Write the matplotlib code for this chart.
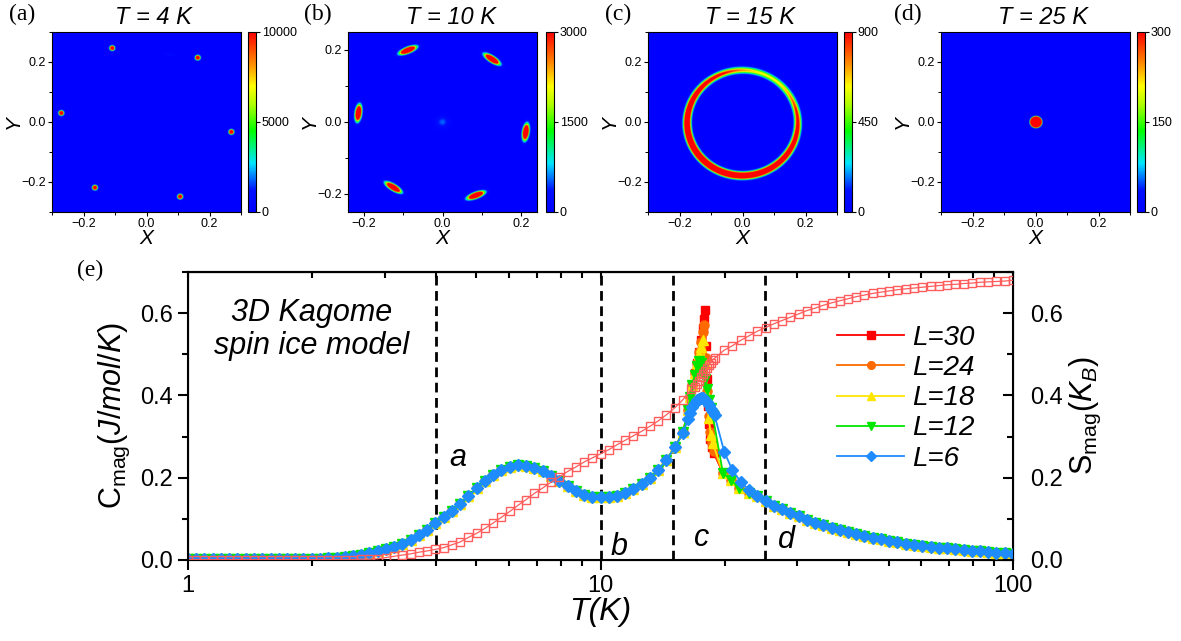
import numpy as np
import matplotlib.pyplot as plt
from matplotlib.colors import LinearSegmentedColormap
from matplotlib.ticker import MultipleLocator, FixedLocator, LogLocator, NullFormatter

plt.rcParams['font.family'] = 'Liberation Sans'
plt.rcParams['mathtext.fontset'] = 'custom'
plt.rcParams['mathtext.rm'] = 'Liberation Sans'
plt.rcParams['mathtext.it'] = 'Liberation Sans:italic'

# ---------------- panel (e): C_mag and S_mag vs T ----------------
T_low = [1.000, 1.047, 1.096, 1.148, 1.202, 1.259, 1.318, 1.380, 1.445, 1.514,
         1.585, 1.660, 1.738, 1.820, 1.905, 1.995, 2.089, 2.188, 2.291, 2.399,
         2.512, 2.630, 2.754, 2.884, 3.020, 3.162, 3.311, 3.467, 3.631, 3.802,
         3.981, 4.169, 4.365, 4.571, 4.786, 5.012, 5.248, 5.495, 5.754, 6.026,
         6.310, 6.607, 6.918, 7.244, 7.586, 7.943, 8.318, 8.710, 9.120, 9.550,
         10.00, 10.47, 10.96, 11.48, 12.02, 12.59, 13.18, 13.80, 14.45, 15.14]
C_low = [0.002, 0.002, 0.002, 0.002, 0.002, 0.002, 0.002, 0.002, 0.002, 0.002,
         0.002, 0.002, 0.002, 0.003, 0.003, 0.003, 0.003, 0.004, 0.005, 0.007,
         0.009, 0.012, 0.016, 0.021, 0.026, 0.032, 0.040, 0.049, 0.060, 0.073,
         0.089, 0.104, 0.120, 0.137, 0.156, 0.174, 0.191, 0.206, 0.218, 0.227,
         0.232, 0.229, 0.224, 0.216, 0.204, 0.192, 0.179, 0.167, 0.159, 0.154,
         0.152, 0.152, 0.155, 0.162, 0.172, 0.184, 0.199, 0.218, 0.243, 0.274]
S_low = [0.001, 0.001, 0.001, 0.001, 0.001, 0.001, 0.001, 0.001, 0.001, 0.001,
         0.001, 0.001, 0.001, 0.001, 0.001, 0.001, 0.001, 0.001, 0.001, 0.001,
         0.001, 0.002, 0.002, 0.003, 0.006, 0.009, 0.012, 0.015, 0.019, 0.022,
         0.026, 0.030, 0.037, 0.044, 0.055, 0.065, 0.077, 0.090, 0.104, 0.118,
         0.133, 0.147, 0.162, 0.175, 0.189, 0.202, 0.215, 0.226, 0.238, 0.248,
         0.258, 0.268, 0.280, 0.291, 0.302, 0.313, 0.325, 0.338, 0.353, 0.370]

T_high = [23.99, 25.12, 26.30, 27.54, 28.84, 30.20, 31.62, 33.11, 34.67, 36.31,
          38.02, 39.81, 41.69, 43.65, 45.71, 47.86, 50.12, 52.48, 54.95, 57.54,
          60.26, 63.10, 66.07, 69.18, 72.44, 75.86, 79.43, 83.18, 87.10, 91.20,
          95.50, 100.0]
C_high = [0.155, 0.143, 0.132, 0.123, 0.114, 0.106, 0.098, 0.091, 0.085, 0.078,
          0.073, 0.067, 0.062, 0.058, 0.054, 0.050, 0.046, 0.043, 0.040, 0.037,
          0.035, 0.032, 0.030, 0.028, 0.026, 0.024, 0.022, 0.021, 0.019, 0.018,
          0.016, 0.015]
S_high = [0.556, 0.565, 0.574, 0.582, 0.590, 0.598, 0.606, 0.612, 0.619, 0.625,
          0.630, 0.635, 0.640, 0.644, 0.648, 0.651, 0.654, 0.657, 0.659, 0.661,
          0.663, 0.665, 0.667, 0.669, 0.670, 0.672, 0.673, 0.675, 0.676, 0.677,
          0.678, 0.680]

# transition region, per system size
T_crit_30 = [15.85, 16.3, 16.5, 16.7, 16.9, 17.1, 17.3, 17.5, 17.7, 17.8, 17.9,
             18.0, 18.1, 18.2, 18.3, 18.45, 18.6, 18.8, 19.8, 20.7, 21.7, 22.9]
C_crit_30 = [0.310, 0.365, 0.395, 0.425, 0.455, 0.480, 0.505, 0.535, 0.565, 0.585, 0.607,
             0.520, 0.440, 0.375, 0.330, 0.295, 0.275, 0.260, 0.212, 0.194, 0.176, 0.164]
T_crit_24 = [15.85, 16.3, 16.5, 16.7, 16.9, 17.1, 17.3, 17.5, 17.7, 17.85,
             18.0, 18.15, 18.3, 18.45, 18.6, 18.8, 19.8, 20.7, 21.7, 22.9]
C_crit_24 = [0.310, 0.365, 0.395, 0.425, 0.455, 0.480, 0.505, 0.530, 0.555, 0.570,
             0.490, 0.410, 0.350, 0.310, 0.285, 0.265, 0.212, 0.194, 0.176, 0.164]
T_crit_18 = [15.85, 16.3, 16.5, 16.7, 16.9, 17.1, 17.3, 17.5, 17.7, 17.9,
             18.1, 18.3, 18.5, 18.7, 19.8, 20.7, 21.7, 22.9]
C_crit_18 = [0.310, 0.365, 0.395, 0.425, 0.455, 0.480, 0.500, 0.518, 0.534, 0.480,
             0.400, 0.345, 0.305, 0.285, 0.212, 0.194, 0.176, 0.164]
T_crit_12 = [15.85, 16.3, 16.5, 16.7, 16.9, 17.1, 17.3, 17.5, 17.7, 17.9,
             18.1, 18.3, 18.5, 18.7, 19.8, 20.7, 21.7, 22.9]
C_crit_12 = [0.310, 0.365, 0.395, 0.425, 0.450, 0.472, 0.484, 0.480, 0.465, 0.440,
             0.415, 0.390, 0.370, 0.352, 0.212, 0.194, 0.176, 0.164]
T_crit_6 = [15.85, 16.3, 16.5, 16.7, 16.9, 17.1, 17.3, 17.5, 17.7, 17.9,
            18.1, 18.3, 18.5, 18.7, 18.9, 19.95, 20.89, 21.88, 22.91]
C_crit_6 = [0.308, 0.342, 0.358, 0.371, 0.381, 0.388, 0.392, 0.394, 0.393, 0.389,
            0.383, 0.376, 0.368, 0.360, 0.352, 0.263, 0.218, 0.190, 0.170]
T_crit_S = [15.85, 16.60, 16.9, 17.1, 17.3, 17.5, 17.7, 17.9, 18.1, 18.3, 18.5,
            18.7, 18.9, 19.95, 20.89, 21.88, 22.91]
S_crit = [0.390, 0.415, 0.421, 0.428, 0.436, 0.444, 0.452, 0.460, 0.467, 0.474, 0.480,
          0.486, 0.490, 0.510, 0.521, 0.534, 0.545]

sizes = [30, 24, 18, 12, 6]
colors = ['#ff0000', '#ff6a00', '#ffe600', '#00e600', '#1e8cff']
markers = ['s', 'o', '^', 'v', 'D']
msizes = [6, 6.5, 7, 7, 6.3]
T_crits = [T_crit_30, T_crit_24, T_crit_18, T_crit_12, T_crit_6]
C_crits = [C_crit_30, C_crit_24, C_crit_18, C_crit_12, C_crit_6]

T_marks = [4, 10, 15, 25]
region_labels = ['a', 'b', 'c', 'd']
region_T = [4.52, 11.1, 17.6, 28.3]
region_C = [0.247, 0.032, 0.053, 0.049]

# ---------------- panels (a)-(d): intensity maps ----------------
panel_titles = ['T = 4 K', 'T = 10 K', 'T = 15 K', 'T = 25 K']
panel_tags = ['(a)', '(b)', '(c)', '(d)']
panel_vmax = [10000, 3000, 900, 300]
half_x = [0.3, 0.24, 0.3, 0.3]
half_y = [0.3, 0.25, 0.3, 0.3]

spots_a_x = [-0.109, 0.163, -0.271, 0.270, -0.164, 0.107]
spots_a_y = [0.247, 0.215, 0.030, -0.033, -0.219, -0.249]
spots_b_x = [-0.088, 0.126, -0.214, 0.212, -0.125, 0.085]
spots_b_y = [0.200, 0.175, 0.025, -0.028, -0.182, -0.204]
ring_radius = 0.176
dot_radius = 0.019

cmap = LinearSegmentedColormap.from_list('origin_rainbow', [
    (0.0, '#0000ff'), (0.12, '#0010ff'), (0.27, '#00e5ff'), (0.45, '#00ff00'),
    (0.6, '#b0ff00'), (0.7, '#ffff00'), (0.82, '#ff9000'), (1.0, '#ff0000')])


def add_spots(X, Y, xs, ys, amp, sig_t, sig_r):
    out = np.zeros_like(X)
    for x0, y0 in zip(xs, ys):
        th = np.arctan2(y0, x0)
        dx, dy = X - x0, Y - y0
        r = dx * np.cos(th) + dy * np.sin(th)
        t = -dx * np.sin(th) + dy * np.cos(th)
        out += amp * np.exp(-r ** 2 / (2 * sig_r ** 2) - t ** 2 / (2 * sig_t ** 2))
    return out


def make_map(k):
    x = np.linspace(-half_x[k], half_x[k], 500)
    y = np.linspace(-half_y[k], half_y[k], 500)
    X, Y = np.meshgrid(x, y)
    if k == 0:
        Z = add_spots(X, Y, spots_a_x, spots_a_y, 25000, 0.0045, 0.0045)
        Z += add_spots(X, Y, [0.072], [0.226], 900, 0.012, 0.002)
    elif k == 1:
        Z = add_spots(X, Y, spots_b_x, spots_b_y, 9000, 0.0125, 0.0045)
        Z += 550 * np.exp(-(X ** 2 + Y ** 2) / (2 * 0.011 ** 2))
    elif k == 2:
        R = np.hypot(X, Y + 0.003)
        phi = np.arctan2(Y, X)
        amp = 900 * (1.7 + 1.0 * np.cos(phi - np.deg2rad(240)))
        Z = amp * np.exp(-(R - ring_radius) ** 2 / (2 * 0.0068 ** 2))
    else:
        R = np.hypot(X, Y)
        Z = 600 * np.exp(-(R / dot_radius) ** 8)
    return Z


fig = plt.figure(figsize=(11.81, 6.41), dpi=100)
W, H = 1181.0, 641.0

ax_left = [52, 348, 648, 941]
cb_left = [248, 546, 844, 1137]
tag_x = [22, 318, 618, 908]

for k in range(4):
    axm = fig.add_axes([ax_left[k] / W, (H - 212) / H, 189 / W, 180 / H])
    Z = make_map(k)
    im = axm.imshow(Z, origin='lower', cmap=cmap, vmin=0, vmax=panel_vmax[k],
                    extent=[-half_x[k], half_x[k], -half_y[k], half_y[k]],
                    aspect='auto', interpolation='bilinear')
    axm.set_xticks([-0.2, 0.0, 0.2])
    axm.set_yticks([-0.2, 0.0, 0.2])
    axm.xaxis.set_minor_locator(MultipleLocator(0.1))
    axm.yaxis.set_minor_locator(MultipleLocator(0.1))
    axm.tick_params(which='major', length=3, width=0.8, labelsize=9, pad=1.5)
    axm.tick_params(which='minor', length=2, width=0.7)
    for s in axm.spines.values():
        s.set_linewidth(0.8)
    axm.set_xlabel('X', fontsize=15, fontstyle='italic', labelpad=-1)
    axm.set_ylabel('Y', fontsize=15, fontstyle='italic', labelpad=-1)

    cax = fig.add_axes([cb_left[k] / W, (H - 212) / H, 7.5 / W, 180 / H])
    cb = fig.colorbar(im, cax=cax, ticks=[0, panel_vmax[k] / 2, panel_vmax[k]])
    cb.ax.set_yticklabels(['0', str(panel_vmax[k] // 2), str(panel_vmax[k])])
    cb.ax.tick_params(length=3, width=0.8, labelsize=9, pad=1.5)
    cb.outline.set_linewidth(0.8)

    fig.text((ax_left[k] + cb_left[k] + 7.5) / 2 / W, 1 - 17 / H, panel_titles[k],
             fontsize=17, fontstyle='italic', ha='center', va='center')
    fig.text(tag_x[k] / W, 1 - 14 / H, panel_tags[k], family='Liberation Serif',
             fontsize=17, ha='center', va='center')

fig.text(90 / W, 1 - 270 / H, '(e)', family='Liberation Serif', fontsize=17,
         ha='center', va='center')

# main panel
ax = fig.add_axes([188 / W, 81 / H, 825 / W, 288 / H])
ax.set_xscale('log')

for T0 in T_marks:
    ax.axvline(T0, color='k', lw=2.0, ls=(0, (3.5, 2)), zorder=1)

for L, col, mk, ms, tc, cc in zip(sizes, colors, markers, msizes, T_crits, C_crits):
    ax.plot(T_low + tc + T_high, C_low + cc + C_high, color=col, marker=mk, ms=ms,
            mec=col, lw=1.3, label=f'L={L}', zorder=3)

ax.set_xlim(1, 100)
ax.set_ylim(0, 0.7)
ax.set_xticks([1, 10, 100])
ax.set_xticklabels(['1', '10', '100'])
ax.xaxis.set_minor_locator(LogLocator(base=10, subs=np.arange(2, 10)))
ax.xaxis.set_minor_formatter(NullFormatter())
ax.yaxis.set_major_locator(FixedLocator([0.0, 0.2, 0.4, 0.6]))
ax.yaxis.set_minor_locator(MultipleLocator(0.1))
ax.yaxis.set_major_formatter(plt.FuncFormatter(lambda v, p: f'{v:.1f}'))
ax.tick_params(which='major', direction='out', length=7, width=1.5, labelsize=17, pad=4)
ax.tick_params(which='minor', direction='out', length=4, width=1.5)
for s in ax.spines.values():
    s.set_linewidth(1.5)

top = ax.secondary_xaxis('top')
top.set_xticks([1, 10, 100])
top.xaxis.set_minor_locator(LogLocator(base=10, subs=np.arange(2, 10)))
top.tick_params(which='both', direction='in', length=4, width=1.5,
                labeltop=False)
top.xaxis.set_minor_formatter(NullFormatter())
top.spines['top'].set_linewidth(1.5)

ax.set_xlabel('T(K)', fontsize=23, fontstyle='italic', labelpad=0)
ax.set_ylabel(r'$\mathrm{C_{mag}}\mathit{(J/mol/K)}$', fontsize=22, labelpad=6)

ax.text(1.99, 0.56, '3D Kagome\nspin ice model', fontsize=22, fontstyle='italic',
        ha='center', va='center', multialignment='center', linespacing=1.15)
for lab, tx, cy in zip(region_labels, region_T, region_C):
    ax.text(tx, cy, lab, fontsize=22, fontstyle='italic', ha='center', va='center')

ax.legend(loc='upper left', bbox_to_anchor=(0.787, 0.816), frameon=False,
          prop={'size': 20, 'style': 'italic'}, handlelength=2.4,
          handletextpad=0.3, labelspacing=0.15, borderpad=0, borderaxespad=0,
          markerscale=0.85)

ax2 = ax.twinx()
ax2.plot(T_low + T_crit_S + T_high, S_low + S_crit + S_high, color='#ff5c5c',
         marker='s', ms=5.5, mfc='none', mew=1.0, lw=0.9)
ax2.set_ylim(0, 0.7)
ax2.yaxis.set_major_locator(FixedLocator([0.0, 0.2, 0.4, 0.6]))
ax2.yaxis.set_minor_locator(MultipleLocator(0.1))
ax2.yaxis.set_major_formatter(plt.FuncFormatter(lambda v, p: f'{v:.1f}'))
ax2.tick_params(which='major', direction='in', length=7, width=1.5, labelsize=17, pad=12)
ax2.tick_params(which='minor', direction='in', length=4, width=1.5)
ax2.set_ylabel(r'$\mathrm{S_{mag}}(\mathit{K_B})$', fontsize=22, labelpad=4)

fig.savefig('out.png', dpi=100)
